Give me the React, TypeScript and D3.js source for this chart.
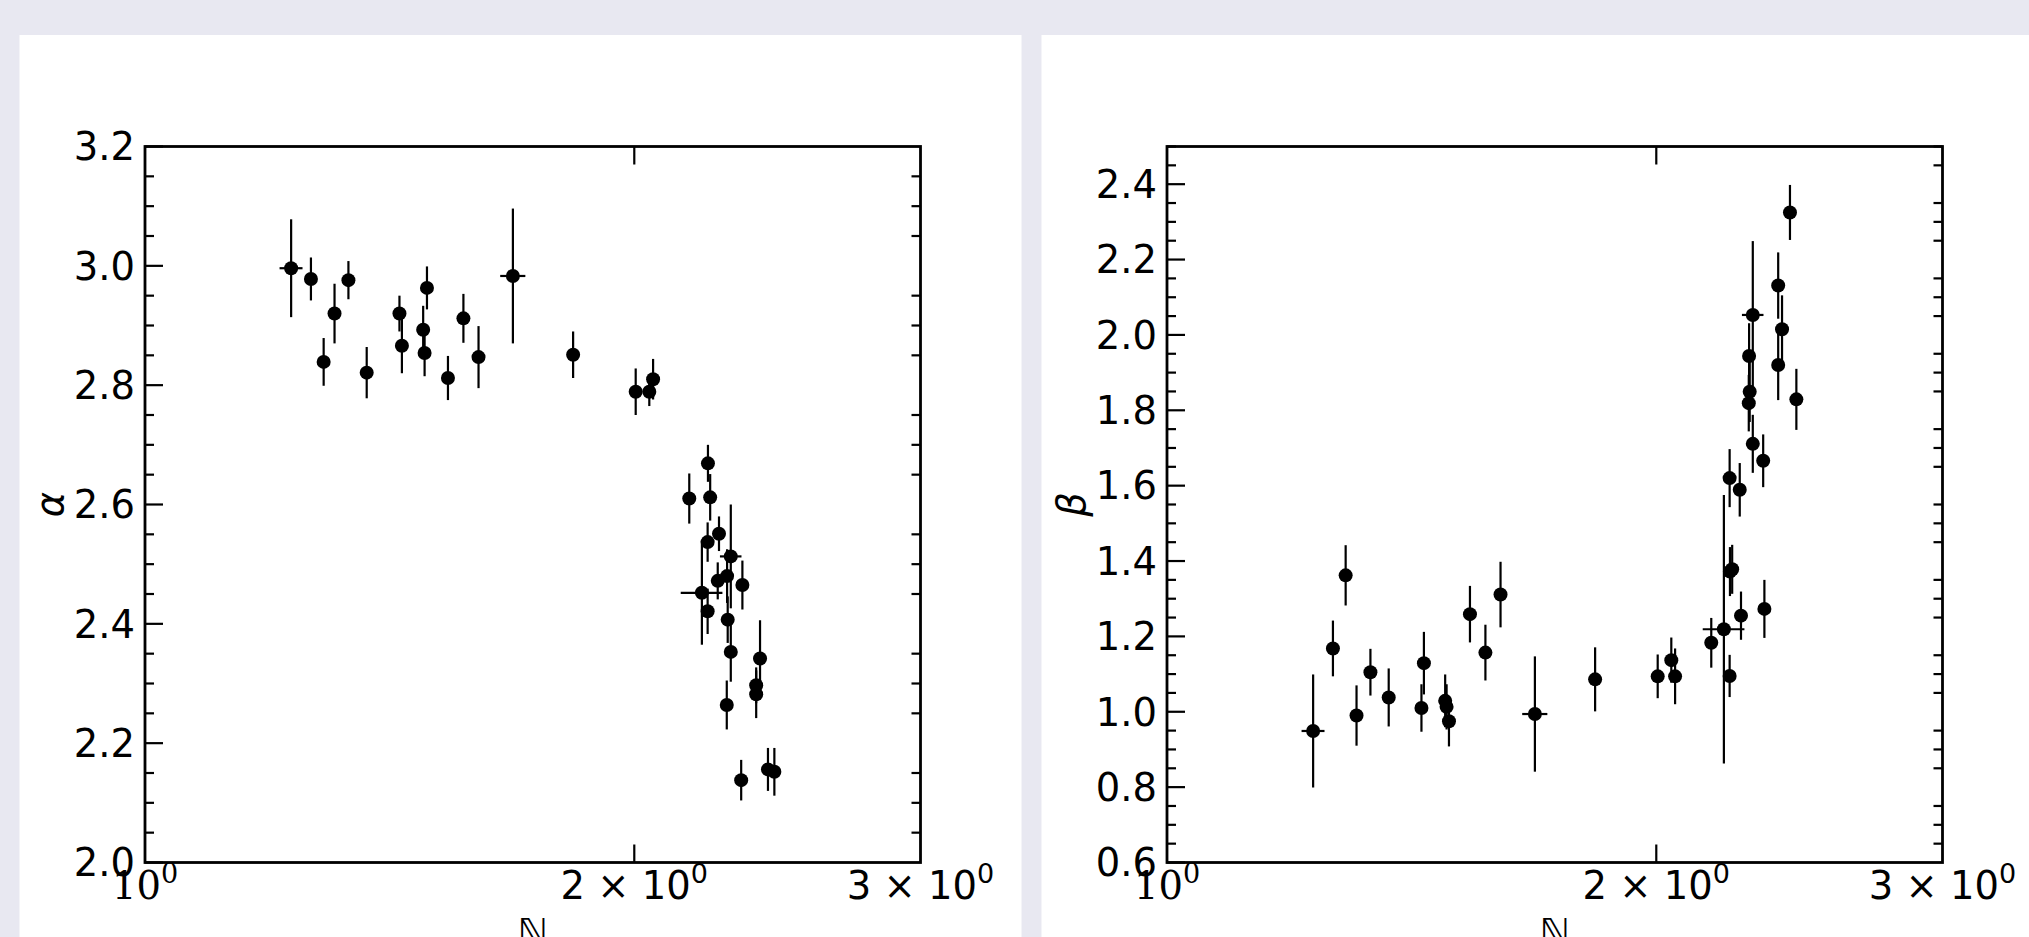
import React from "react";
import * as d3 from "d3";

// ---- data ----
const N = [
  1.230, 1.265, 1.288, 1.308, 1.334, 1.369, 1.434, 1.439, 1.483, 1.486,
  1.491, 1.536, 1.570, 1.604, 1.684, 1.834, 2.004, 2.043, 2.054,
  2.162, 2.201, 2.220, 2.227, 2.219, 2.219, 2.251, 2.255, 2.281, 2.283,
  2.280, 2.293, 2.293, 2.327, 2.331, 2.377, 2.377, 2.390, 2.417, 2.439,
];
const NErr = [
  0.02, 0, 0, 0, 0, 0, 0, 0, 0, 0,
  0, 0, 0, 0, 0.03, 0, 0, 0, 0,
  0, 0.065, 0, 0, 0, 0, 0, 0, 0, 0,
  0, 0, 0.035, 0, 0, 0, 0, 0.022, 0, 0,
];
const alpha = [
  2.996, 2.978, 2.839, 2.920, 2.976, 2.821, 2.920, 2.866, 2.893, 2.854,
  2.963, 2.812, 2.912, 2.847, 2.983, 2.851, 2.789, 2.789, 2.810,
  2.610, 2.452, 2.669, 2.612, 2.537, 2.421, 2.472, 2.551, 2.480, 2.407,
  2.264, 2.353, 2.513, 2.138, 2.465, 2.297, 2.282, 2.342, 2.156, 2.152,
];
const alphaErr = [
  0.082, 0.036, 0.040, 0.050, 0.032, 0.043, 0.030, 0.046, 0.040, 0.039,
  0.036, 0.037, 0.041, 0.052, 0.113, 0.039, 0.039, 0.024, 0.034,
  0.042, 0.087, 0.031, 0.039, 0.033, 0.038, 0.031, 0.029, 0.045, 0.039,
  0.041, 0.050, 0.087, 0.034, 0.041, 0.030, 0.040, 0.064, 0.036, 0.040,
];
const beta = [
  0.949, 1.168, 1.362, 0.990, 1.105, 1.038, 1.010, 1.129, 1.029, 1.013,
  0.975, 1.259, 1.157, 1.311, 0.994, 1.086, 1.094, 1.137, 1.094,
  1.183, 1.219, 1.372, 1.378, 1.620, 1.095, 1.589, 1.255, 1.944, 1.849,
  1.819, 1.711, 2.053, 1.666, 1.273, 2.131, 1.920, 2.015, 2.325, 1.829,
];
const betaErr = [
  0.150, 0.074, 0.080, 0.080, 0.062, 0.077, 0.063, 0.083, 0.070, 0.060,
  0.067, 0.075, 0.074, 0.087, 0.153, 0.085, 0.058, 0.060, 0.074,
  0.066, 0.356, 0.065, 0.065, 0.077, 0.056, 0.071, 0.064, 0.087, 0.080,
  0.075, 0.077, 0.196, 0.070, 0.077, 0.088, 0.093, 0.090, 0.073, 0.081,
];

const xTicks = [1, 2, 3];
const xTickMantissa = ["", "2", "3"];
const alphaTicks = [2.0, 2.2, 2.4, 2.6, 2.8, 3.0, 3.2];
const betaTicks = [0.6, 0.8, 1.0, 1.2, 1.4, 1.6, 1.8, 2.0, 2.2, 2.4];

const W = 2029;
const H = 937;
const BG = "#e8e8f1";
const FONT = "'DejaVu Sans', sans-serif";
const FS = 38.5;

type PanelProps = {
  left: number;
  yDomain: [number, number];
  yMajor: number[];
  ys: number[];
  yErrs: number[];
  yLabel: string;
};

function Panel({ left, yDomain, yMajor, ys, yErrs, yLabel }: PanelProps) {
  const x0 = left + 125.5;
  const x1 = x0 + 775.5;
  const yTop = 146.5;
  const yBot = 862.5;
  const x = d3.scaleLog().domain([1, 3]).range([x0, x1]);
  const y = d3.scaleLinear().domain(yDomain).range([yBot, yTop]);
  const minor = d3
    .range(Math.round(yDomain[0] * 20), Math.round(yDomain[1] * 20) + 1)
    .map((k) => k / 20)
    .filter((v) => !yMajor.some((m) => Math.abs(m - v) < 1e-6));
  const labelY = 946;
  return (
    <g>
      <rect x={left} y={35} width={1002} height={H - 35} fill="#ffffff" />
      {/* error bars */}
      {N.map((n, i) => (
        <g key={"e" + i} stroke="#000" strokeWidth={2.2}>
          <line x1={x(n)} x2={x(n)} y1={y(ys[i] - yErrs[i])} y2={y(ys[i] + yErrs[i])} />
          {NErr[i] > 0 && (
            <line x1={x(n - NErr[i])} x2={x(n + NErr[i])} y1={y(ys[i])} y2={y(ys[i])} />
          )}
        </g>
      ))}
      {N.map((n, i) => (
        <circle key={"p" + i} cx={x(n)} cy={y(ys[i])} r={7} fill="#000" />
      ))}
      {/* ticks */}
      <g stroke="#000" strokeWidth={2.2}>
        {yMajor.map((v) => (
          <line key={"ym" + v} x1={x0} x2={x0 + 18} y1={y(v)} y2={y(v)} />
        ))}
        {minor.map((v) => (
          <line key={"yn" + v} x1={x0} x2={x0 + 9} y1={y(v)} y2={y(v)} />
        ))}
        {minor.map((v) => (
          <line key={"yr" + v} x1={x1 - 9} x2={x1} y1={y(v)} y2={y(v)} />
        ))}
        <line x1={x(2)} x2={x(2)} y1={yBot} y2={yBot - 18} />
        <line x1={x(2)} x2={x(2)} y1={yTop} y2={yTop + 18} />
      </g>
      <rect x={x0} y={yTop} width={x1 - x0} height={yBot - yTop} fill="none" stroke="#000" strokeWidth={2.8} />
      {/* y tick labels */}
      {yMajor.map((v) => (
        <text
          key={"yl" + v}
          x={x0 - 10}
          y={y(v) + 13.8}
          textAnchor="end"
          fontFamily={FONT}
          fontSize={FS}
          fill="#000"
        >
          {v.toFixed(1)}
        </text>
      ))}
      {/* x tick labels */}
      {xTicks.map((t, i) =>
        xTickMantissa[i] === "" ? (
          <text
            key={"xl" + t}
            x={x(t)}
            y={899}
            textAnchor="middle"
            fontFamily="'DejaVu Serif', serif"
            fontSize={FS}
            fill="#000"
          >
            10
            <tspan dy={-16} fontSize={27}>0</tspan>
          </text>
        ) : (
          <text
            key={"xl" + t}
            x={x(t)}
            y={898.5}
            textAnchor="middle"
            fontFamily={FONT}
            fontSize={FS}
            fill="#000"
          >
            {xTickMantissa[i] + " \u00d7 10"}
            <tspan dy={-16} fontSize={27}>0</tspan>
          </text>
        )
      )}
      {/* axis labels */}
      <text
        x={left + 30}
        y={(yTop + yBot) / 2}
        transform={`rotate(-90 ${left + 30} ${(yTop + yBot) / 2})`}
        textAnchor="middle"
        dominantBaseline="central"
        fontFamily={FONT}
        fontStyle="italic"
        fontSize={FS}
        fill="#000"
      >
        {yLabel}
      </text>
      <text
        x={(x0 + x1) / 2}
        y={labelY}
        textAnchor="middle"
        fontFamily={FONT}
        fontSize={FS}
        fill="#000"
      >
        {"\u2115"}
      </text>
    </g>
  );
}

export default function App() {
  return (
    <svg
      width={W}
      height={H}
      style={{ position: "absolute", left: 0, top: 0, display: "block" }}
    >
      <rect x={0} y={0} width={W} height={H} fill={BG} />
      <Panel left={19.5} yDomain={[2.0, 3.2]} yMajor={alphaTicks} ys={alpha} yErrs={alphaErr} yLabel={"\u03b1"} />
      <Panel left={1041.5} yDomain={[0.6, 2.5]} yMajor={betaTicks} ys={beta} yErrs={betaErr} yLabel={"\u03b2"} />
    </svg>
  );
}
